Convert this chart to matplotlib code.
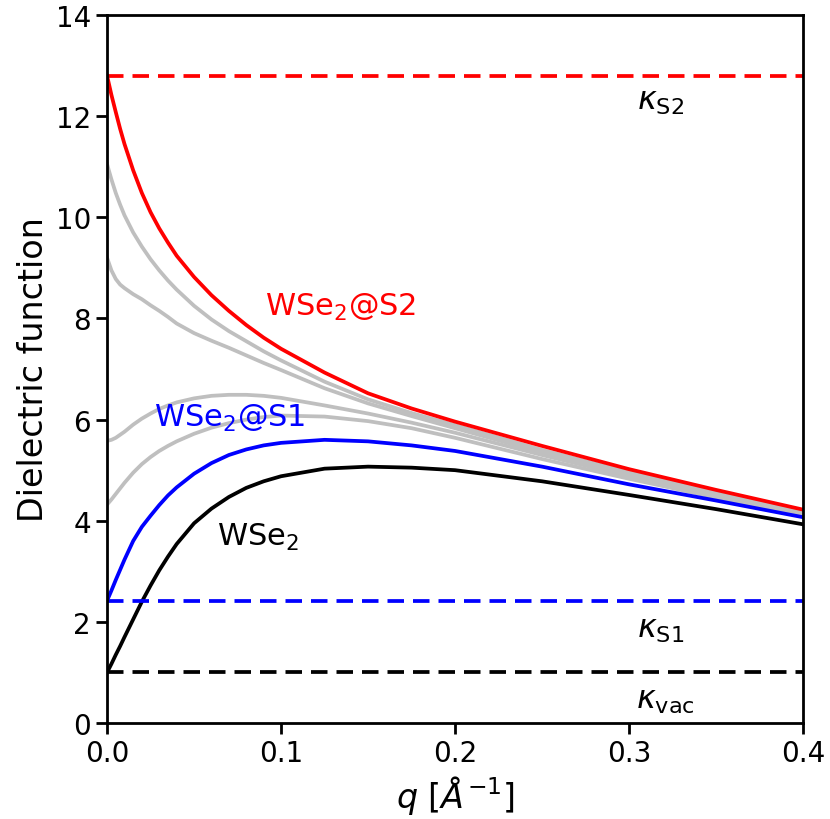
import numpy as np
import matplotlib
matplotlib.use('Agg')
import matplotlib.pyplot as plt

# momentum grid (1/Angstrom) on which the curves were read
q = [0.0, 0.0025, 0.005, 0.0075, 0.01, 0.015, 0.02, 0.025, 0.03, 0.035,
     0.04, 0.05, 0.06, 0.07, 0.08, 0.09, 0.1, 0.125, 0.15, 0.175, 0.2,
     0.25, 0.3, 0.35, 0.4]

eps_wse2 = [1.0, 1.17, 1.35, 1.52, 1.7, 2.05, 2.4, 2.72, 3.02, 3.29,
            3.54, 3.95, 4.24, 4.47, 4.65, 4.78, 4.88, 5.03, 5.07, 5.05, 5.0,
            4.78, 4.51, 4.23, 3.93]
eps_s1 = [2.42, 2.62, 2.83, 3.03, 3.23, 3.6, 3.88, 4.1, 4.31, 4.5,
          4.66, 4.93, 5.14, 5.3, 5.41, 5.49, 5.54, 5.6, 5.57, 5.49, 5.38,
          5.07, 4.72, 4.4, 4.07]
eps_s2 = [12.8, 12.42, 12.08, 11.75, 11.45, 10.93, 10.48, 10.1, 9.78, 9.5,
          9.24, 8.82, 8.46, 8.15, 7.87, 7.62, 7.4, 6.93, 6.52, 6.22, 5.96,
          5.48, 5.02, 4.61, 4.22]

# intermediate substrates (grey)
eps_grey1 = [11.05, 10.75, 10.48, 10.25, 10.04, 9.7, 9.42, 9.17, 8.95, 8.75,
             8.57, 8.25, 7.98, 7.75, 7.55, 7.35, 7.17, 6.75, 6.4, 6.13, 5.89,
             5.4, 4.96, 4.57, 4.2]
eps_grey2 = [9.2, 8.95, 8.78, 8.67, 8.6, 8.48, 8.38, 8.26, 8.15, 8.03,
             7.9, 7.71, 7.56, 7.42, 7.27, 7.12, 6.98, 6.62, 6.32, 6.07, 5.83,
             5.35, 4.92, 4.54, 4.18]
eps_grey3 = [5.58, 5.6, 5.64, 5.7, 5.76, 5.9, 6.02, 6.12, 6.21, 6.28,
             6.34, 6.42, 6.47, 6.49, 6.49, 6.47, 6.43, 6.28, 6.12, 5.94, 5.74,
             5.3, 4.88, 4.5, 4.16]
eps_grey4 = [4.32, 4.42, 4.53, 4.64, 4.75, 4.95, 5.12, 5.26, 5.38, 5.48,
             5.57, 5.72, 5.84, 5.93, 6.0, 6.05, 6.08, 6.06, 5.97, 5.83, 5.64,
             5.22, 4.83, 4.46, 4.13]

kappa_vac = 1.0
kappa_s1 = 2.42
kappa_s2 = 12.8

fig = plt.figure(figsize=(8.3, 8.2), dpi=100)
ax = fig.add_axes([0.129, 0.117, 0.8385, 0.8635])

for g in [eps_grey1, eps_grey2, eps_grey3, eps_grey4]:
    ax.plot(q, g, color='#bfbfbf', lw=2.7)

ax.plot(q, eps_wse2, color='black', lw=2.7)
ax.plot(q, eps_s1, color='blue', lw=2.7)
ax.plot(q, eps_s2, color='red', lw=2.7)

dash = (4.4, 2.4)
ax.axhline(kappa_vac, color='black', ls='--', dashes=dash, lw=2.7)
ax.axhline(kappa_s1, color='blue', ls='--', dashes=dash, lw=2.7)
ax.axhline(kappa_s2, color='red', ls='--', dashes=dash, lw=2.7)

ax.text(0.318, 12.3, r'$\kappa_{\rm S2}$', fontsize=23, ha='center', va='center')
ax.text(0.318, 1.86, r'$\kappa_{\rm S1}$', fontsize=23, ha='center', va='center')
ax.text(0.321, 0.47, r'$\kappa_{\rm vac}$', fontsize=23, ha='center', va='center')

ax.text(0.134, 8.23, r'WSe$_2$@S2', color='red', fontsize=22, ha='center', va='center')
ax.text(0.0707, 6.05, r'WSe$_2$@S1', color='blue', fontsize=22, ha='center', va='center')
ax.text(0.087, 3.68, r'WSe$_2$', color='black', fontsize=22, ha='center', va='center')

ax.set_xlim(0, 0.4)
ax.set_ylim(0, 14)
ax.set_xticks([0.0, 0.1, 0.2, 0.3, 0.4])
ax.set_xticklabels(['0.0', '0.1', '0.2', '0.3', '0.4'])
ax.set_yticks(range(0, 15, 2))
ax.tick_params(labelsize=20, length=8, width=2)
for s in ax.spines.values():
    s.set_linewidth(2)

ax.set_xlabel(r'$q$ [$\AA^{-1}$]', fontsize=24)
ax.set_ylabel('Dielectric function', fontsize=24)

fig.savefig('out.png', dpi=100)
